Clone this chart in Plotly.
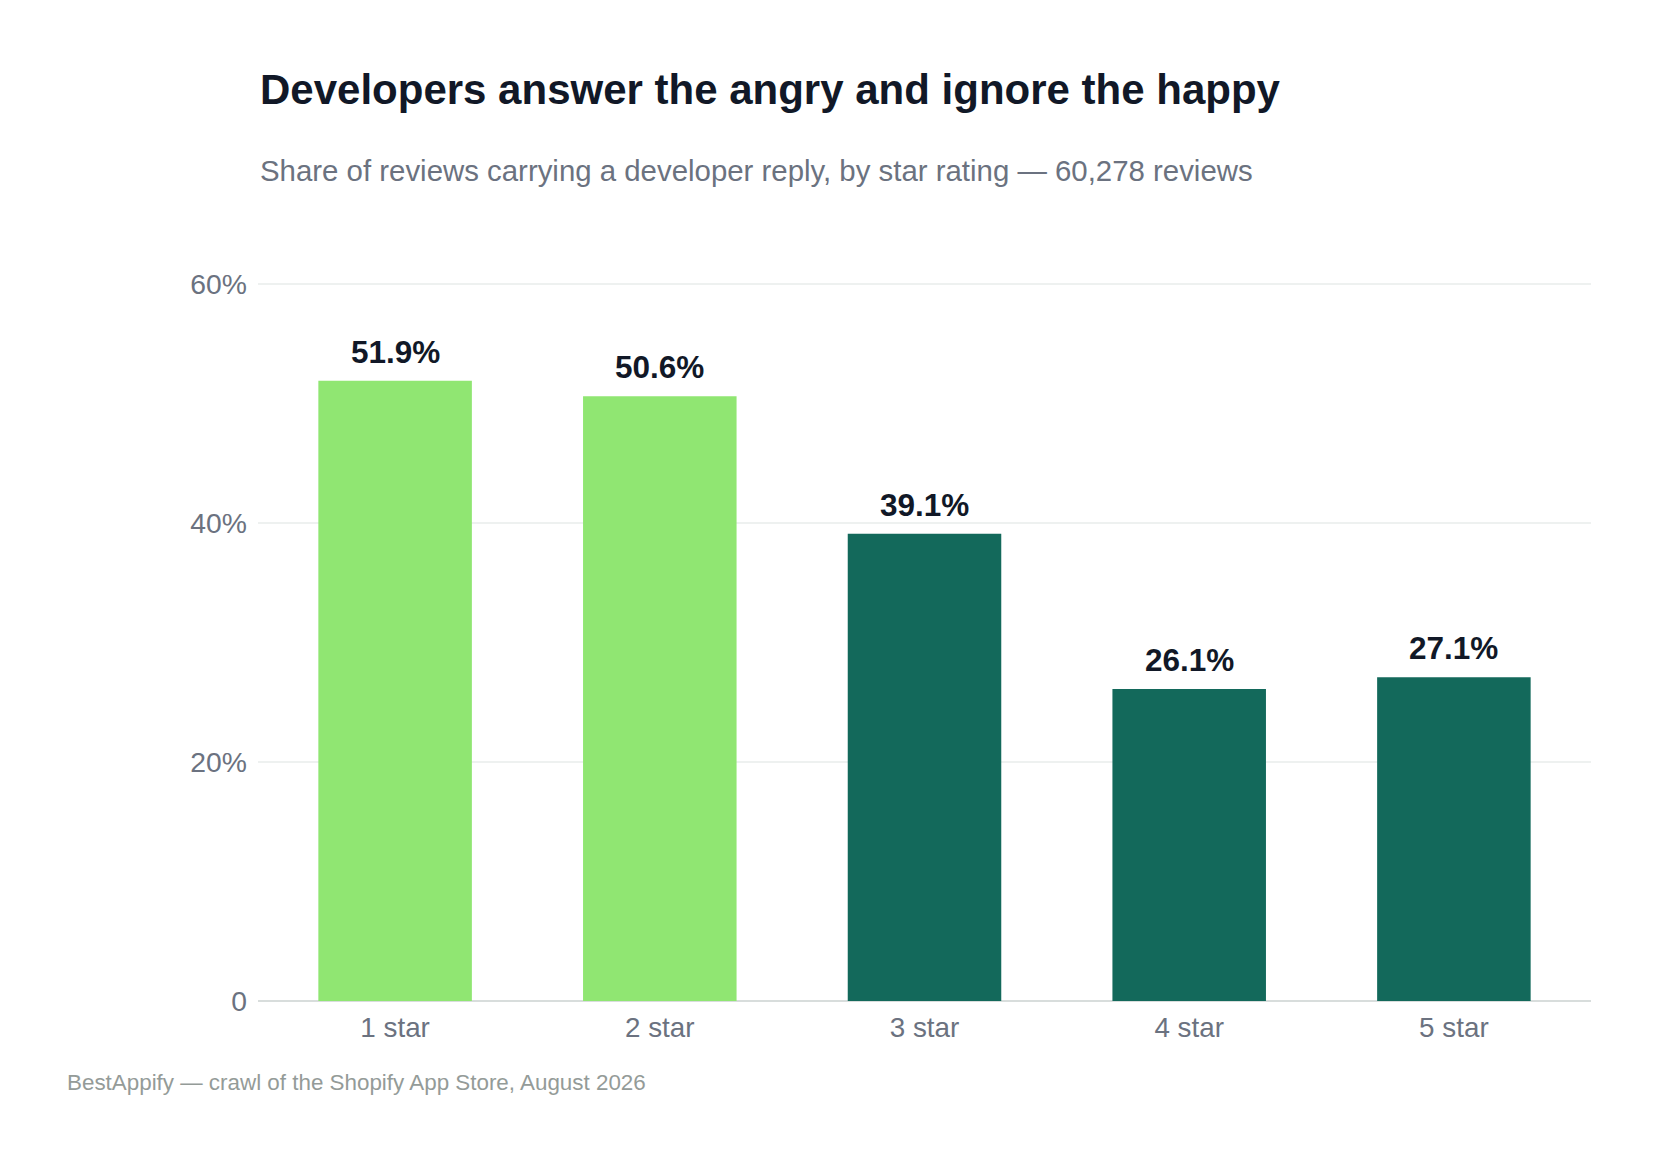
import plotly.graph_objects as go

categories = ["1 star", "2 star", "3 star", "4 star", "5 star"]
reply_share = [51.9, 50.6, 39.1, 26.1, 27.1]
bar_colors = ["#90e672", "#90e672", "#13695b", "#13695b", "#13695b"]
tick_values = [0, 20, 40, 60]
tick_labels = ["0", "20%", "40%", "60%"]

title_text = "Developers answer the angry and ignore the happy"
subtitle_text = "Share of reviews carrying a developer reply, by star rating \u2014 60,278 reviews"
footer_text = "BestAppify \u2014 crawl of the Shopify App Store, August 2026"

FONT = "Liberation Sans, Arial, Helvetica, sans-serif"

fig = go.Figure(
    go.Bar(
        x=categories,
        y=reply_share,
        marker=dict(color=bar_colors, line=dict(width=0)),
        hoverinfo="skip",
    )
)

value_labels = [
    dict(
        x=c, y=v, xref="x", yref="y",
        text="<b>%.1f%%</b>" % v,
        showarrow=False, xanchor="center", yanchor="bottom", yshift=9,
        font=dict(family=FONT, size=31.5, color="#111827"),
    )
    for c, v in zip(categories, reply_share)
]

fig.update_layout(
    width=1655,
    height=1158,
    margin=dict(l=250, r=72, t=264, b=165),
    paper_bgcolor="white",
    plot_bgcolor="white",
    bargap=0.42,
    showlegend=False,
    font=dict(family=FONT, color="#6b7280"),
    xaxis=dict(
        range=[-0.518, 4.518],
        showgrid=False,
        showline=False,
        zeroline=False,
        ticks="",
        tickfont=dict(family=FONT, size=27.8, color="#6b7280"),
        ticklabelstandoff=7,
        fixedrange=True,
    ),
    yaxis=dict(
        range=[0, 61],
        tickvals=tick_values,
        ticktext=tick_labels,
        showgrid=True,
        gridcolor="#eef1f0",
        gridwidth=2,
        zeroline=True,
        zerolinecolor="#d8dddc",
        zerolinewidth=2,
        showline=False,
        ticks="",
        tickfont=dict(family=FONT, size=28.3, color="#6b7280"),
        ticklabelstandoff=10,
        fixedrange=True,
    ),
    annotations=value_labels + [
        dict(
            text="<b>" + title_text + "</b>",
            xref="paper", yref="paper", x=0, y=1.2505,
            xanchor="left", yanchor="middle", showarrow=False,
            font=dict(family=FONT, size=42, color="#111827"),
        ),
        dict(
            text=subtitle_text,
            xref="paper", yref="paper", x=0, y=1.1386,
            xanchor="left", yanchor="middle", showarrow=False,
            font=dict(family=FONT, size=29.4, color="#6b7280"),
        ),
        dict(
            text=footer_text,
            xref="paper", yref="paper", x=-0.1448, y=-0.1117,
            xanchor="left", yanchor="middle", showarrow=False,
            font=dict(family=FONT, size=22.4, color="#949b98"),
        ),
    ],
)

fig.write_html("out.html")
